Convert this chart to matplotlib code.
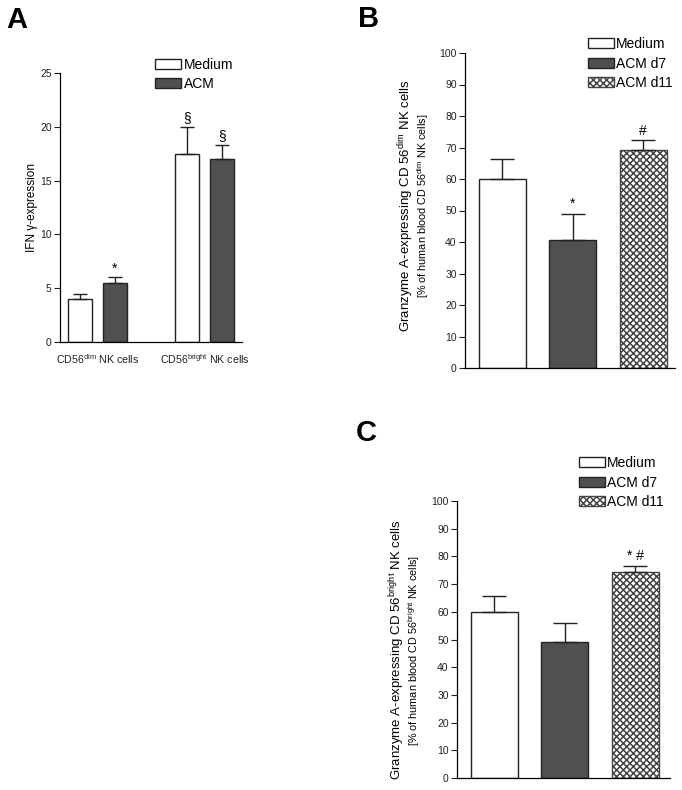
import matplotlib
matplotlib.use('Agg')
from matplotlib import pyplot as plt
from matplotlib.patches import Patch
import numpy as np

plt.rcParams['font.family'] = ['Liberation Sans', 'DejaVu Sans']
plt.rcParams['mathtext.fontset'] = 'custom'
plt.rcParams['mathtext.rm'] = 'Liberation Sans'
plt.rcParams['hatch.linewidth'] = 1.1

# panel A: IFN-gamma expression
a_groups = ['CD56$^{\\mathrm{dim}}$ NK cells', 'CD56$^{\\mathrm{bright}}$ NK cells']
a_series = ['Medium', 'ACM']
a_means = {'Medium': [4.0, 17.5], 'ACM': [5.5, 17.0]}
a_errs = {'Medium': [0.5, 2.5], 'ACM': [0.5, 1.3]}
a_marks = {'Medium': ['', '§'], 'ACM': ['*', '§']}

# panels B and C: granzyme A
gz_series = ['Medium', 'ACM d7', 'ACM d11']
b_means = [60.0, 40.5, 69.2]
b_errs = [6.5, 8.5, 3.1]
b_marks = ['', '*', '#']
c_means = [59.8, 49.0, 74.5]
c_errs = [6.0, 7.0, 2.2]
c_marks = ['', '', '* #']

W, H = 682, 790
fig = plt.figure(figsize=(W / 100, H / 100), dpi=100)

styles = {
    'Medium': dict(facecolor='white', edgecolor='#222222'),
    'ACM': dict(facecolor='#505050', edgecolor='#222222'),
    'ACM d7': dict(facecolor='#505050', edgecolor='#222222'),
    'ACM d11': dict(facecolor='white', edgecolor='#444444', hatch='xxxxx'),
}


def px_axes(left, top, right, bottom):
    return fig.add_axes([left / W, 1 - bottom / H, (right - left) / W, (bottom - top) / H])


def style_axes(ax, ymax, ystep):
    for s in ['top', 'right']:
        ax.spines[s].set_visible(False)
    ax.spines['left'].set_linewidth(0.9)
    ax.spines['bottom'].set_linewidth(0.9)
    ax.set_ylim(0, ymax)
    ax.set_yticks(np.arange(0, ymax + 1, ystep))
    ax.tick_params(axis='y', direction='out', length=4, width=0.8, labelsize=7.5, pad=2, colors='#222222')
    ax.tick_params(axis='x', length=0)


def draw_bar(ax, x, mean, err, mark, style, yr, cap):
    ax.bar(x, mean, width=1.0, linewidth=1.0, zorder=2, **style)
    ax.errorbar(x, mean, yerr=[[0], [err]], fmt='none', ecolor='#222222', elinewidth=1.0,
                capsize=cap, capthick=1.0, zorder=3)
    if mark:
        ax.text(x, mean + err + yr * 0.008, mark, ha='center', va='bottom', fontsize=10)


# ---- A ----
axA = px_axes(60, 73, 242, 342)
style_axes(axA, 25, 5)
axA.set_xlim(0, 7.6)
centers = [1.56, 6.05]
for j, s in enumerate(a_series):
    off = -0.73 if j == 0 else 0.73
    for g in range(len(a_groups)):
        draw_bar(axA, centers[g] + off, a_means[s][g], a_errs[s][g], a_marks[s][g], styles[s], 25, 4.8)
axA.set_xticks(centers)
axA.set_xticklabels(a_groups, fontsize=7.7, color='#222222')
axA.tick_params(axis='x', pad=7)
fig.text(32 / W, 1 - 207 / H, 'IFN γ-expression', rotation=90, ha='center', va='center', fontsize=8.5)
axA.legend(handles=[Patch(**styles[s], linewidth=1.0) for s in a_series], labels=a_series,
           loc='upper left', bbox_to_anchor=(155 / W, 1 - 58 / H), bbox_transform=fig.transFigure,
           frameon=False, fontsize=10, handlelength=1.9, handleheight=0.75, handletextpad=0.15,
           labelspacing=0.35, borderpad=0, borderaxespad=0)
fig.text(6 / W, 1 - 20 / H, 'A', fontsize=21, fontweight='bold', ha='left', va='center')


# ---- B and C ----
def gz_panel(box, means, errs, marks, tag, line1, line2, lab_x, lab_y, leg_xy, tag_xy):
    ax = px_axes(*box)
    style_axes(ax, 100, 10)
    width_units = (box[2] - box[0]) / 47.0
    ax.set_xlim(0, width_units)
    ax.set_xticks([])
    for i, s in enumerate(gz_series):
        draw_bar(ax, 0.79 + 1.5 * i, means[i], errs[i], marks[i], styles[s], 100, 8.3)
    fig.text(lab_x / W, 1 - lab_y / H, line1, rotation=90, ha='center', va='center', fontsize=9.5)
    fig.text((lab_x + 17) / W, 1 - lab_y / H, line2, rotation=90, ha='center', va='center', fontsize=7.8)
    ax.legend(handles=[Patch(**styles[s], linewidth=1.0) for s in gz_series], labels=gz_series,
              loc='upper left', bbox_to_anchor=(leg_xy[0] / W, 1 - leg_xy[1] / H),
              bbox_transform=fig.transFigure, frameon=False, fontsize=10, handlelength=1.9,
              handleheight=0.75, handletextpad=0.1, labelspacing=0.4, borderpad=0, borderaxespad=0)
    fig.text(tag_xy[0] / W, 1 - tag_xy[1] / H, tag, fontsize=21, fontweight='bold', ha='left', va='center')
    return ax


gz_panel((465, 53, 675, 368), b_means, b_errs, b_marks, 'B',
         'Granzyme A-expressing CD 56$^{\\mathrm{dim}}$ NK cells',
         '[% of human blood CD 56$^{\\mathrm{dim}}$ NK cells]',
         406, 206, (588, 37), (358, 19))

gz_panel((457, 501, 670, 778), c_means, c_errs, c_marks, 'C',
         'Granzyme A-expressing CD 56$^{\\mathrm{bright}}$ NK cells',
         '[% of human blood CD 56$^{\\mathrm{bright}}$ NK cells]',
         397, 650, (579, 456), (356, 433))

plt.savefig('out.png', dpi=100)
